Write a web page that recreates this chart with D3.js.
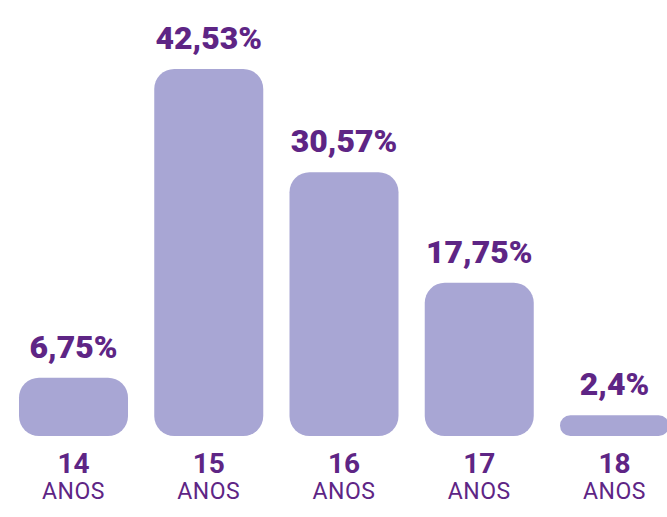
<!DOCTYPE html>
<html>
<head>
<meta charset="utf-8">
<script src="https://cdn.jsdelivr.net/npm/d3@7"></script>
<style>
  body { margin: 0; background: #fff; }
  svg { display: block; }
</style>
</head>
<body>
<svg id="chart" width="667" height="517"></svg>
<script>
const ages = ['14', '15', '16', '17', '18'];
const percents = [6.75, 42.53, 30.57, 17.75, 2.4];
const unitLabel = 'ANOS';

const purple = '#5e2585';
const barColor = '#a8a6d4';

const svg = d3.select('#chart');

const x = d3.scaleBand()
  .domain(ages)
  .range([19, 669])
  .paddingInner(0.194)
  .paddingOuter(0);

const y = d3.scaleLinear()
  .domain([0, 42.53])
  .range([436, 69]);

const fmt = v => String(v).replace('.', ',') + '%';

const rows = ages.map((a, i) => ({ age: a, value: percents[i] }));

// bars, rounded on every corner
svg.append('g')
  .selectAll('rect')
  .data(rows)
  .join('rect')
  .attr('x', d => x(d.age))
  .attr('y', d => y(d.value))
  .attr('width', x.bandwidth())
  .attr('height', d => y(0) - y(d.value))
  .attr('rx', d => Math.min(20, (y(0) - y(d.value)) / 2))
  .attr('fill', barColor);

// value labels above bars
svg.append('g')
  .selectAll('text')
  .data(rows)
  .join('text')
  .attr('x', d => x(d.age) + x.bandwidth() / 2)
  .attr('y', d => y(d.value) - 20)
  .attr('text-anchor', 'middle')
  .style('font-family', 'Roboto, "DejaVu Sans", sans-serif')
  .style('font-weight', 900)
  .style('font-size', '32px')
  .style('fill', purple)
  .text(d => fmt(d.value));

// category labels
const cat = svg.append('g')
  .selectAll('g')
  .data(rows)
  .join('g')
  .attr('transform', d => `translate(${x(d.age) + x.bandwidth() / 2},0)`);

cat.append('text')
  .attr('y', 473)
  .attr('text-anchor', 'middle')
  .style('font-family', 'Roboto, sans-serif')
  .style('font-weight', 700)
  .style('font-size', '28px')
  .style('fill', purple)
  .text(d => d.age);

cat.append('text')
  .attr('y', 499)
  .attr('text-anchor', 'middle')
  .style('font-family', 'Roboto, sans-serif')
  .style('font-weight', 400)
  .style('font-size', '23px')
  .style('letter-spacing', '0.5px')
  .style('fill', purple)
  .text(unitLabel);
</script>
</body>
</html>
